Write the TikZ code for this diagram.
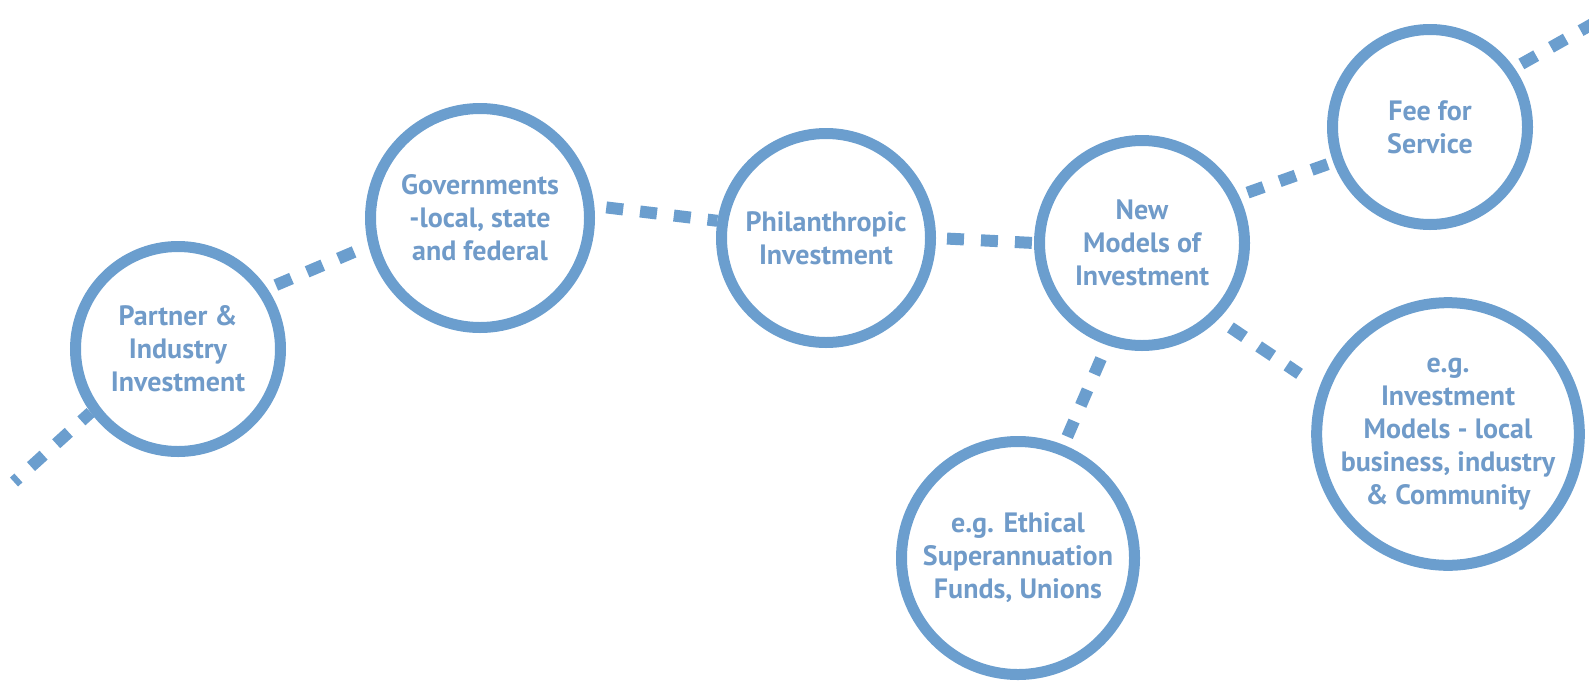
\documentclass[tikz,border=0pt]{standalone}
\usepackage{fontspec}
\setmainfont{PT Sans}
\definecolor{ringblue}{RGB}{107,158,206}
\definecolor{labelblue}{RGB}{112,155,201}
\begin{document}
\begin{tikzpicture}[x=1pt,y=-1pt,
  bubble/.style={circle, draw=ringblue, line width=11pt, inner sep=0pt,
    align=center, text=labelblue,
    font=\bfseries\fontsize{28}{33}\selectfont},
  link/.style={draw=ringblue, line width=12pt, line cap=butt,
    dash pattern=on 17pt off 17pt}]
\useasboundingbox (0,0) rectangle (1589,681);

% funding sources
\node[bubble, minimum size=205pt] (partner) at (178,349) {Partner \&\\Industry\\Investment};
\node[bubble, minimum size=219pt] (gov)     at (480,218) {Governments\\-local, state\\and federal};
\node[bubble, minimum size=209pt] (phil)    at (826,238) {Philanthropic\\Investment};
\node[bubble, minimum size=205pt] (new)     at (1142,243) {New\\Models of\\Investment};
\node[bubble, minimum size=195pt] (fee)     at (1430,127) {Fee for\\Service};
\node[bubble, minimum size=261pt] (eginv)   at (1448,434) {e.g.\\Investment\\Models - local\\business, industry\\\& Community};
\node[bubble, minimum size=233pt] (eth)     at (1018,558) {e.g. Ethical\\Superannuation\\Funds, Unions};

% open ends of the chain
\coordinate (ll) at (14,482);
\coordinate (tr) at (1619,9);

% dotted chain
\draw[link, dash phase=4.5pt] (partner.216) -- (ll);
\draw[link, dash phase=25pt]  (partner.34) -- (gov.194);
\draw[link, dash phase=22pt]  (gov.6) -- (phil.171);
\draw[link, dash phase=23pt]  (phil.east) -- (new.west);
\draw[link, dash phase=25pt]  (new.26) -- (fee.200);
\draw[link, dash phase=26pt]  (fee.35) -- (tr);
\draw[link, dash phase=19.5pt, shorten >=24pt] (new.315) -- (eginv.160);
\draw[link, dash phase=19.3pt] (new.251) -- (eth.68);
\end{tikzpicture}
\end{document}
